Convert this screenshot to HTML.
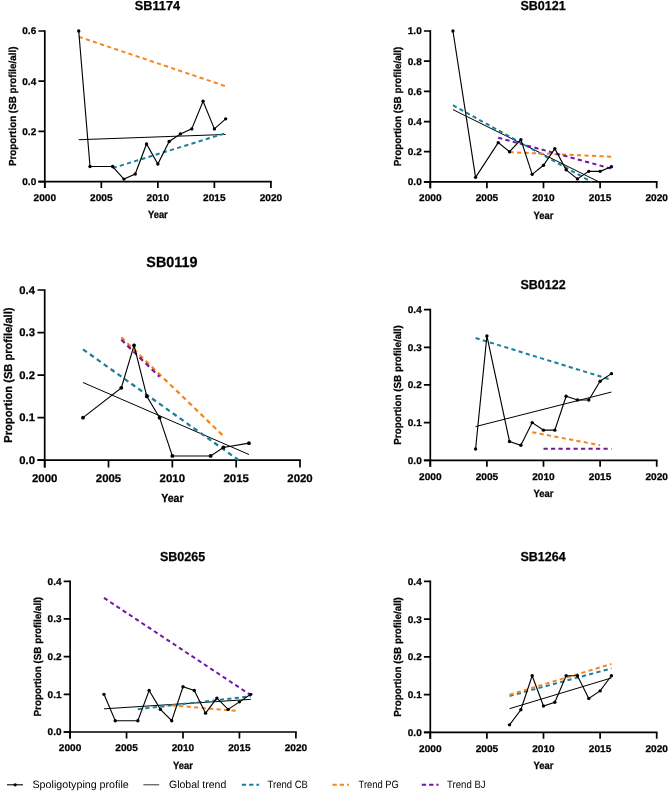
<!DOCTYPE html>
<html><head><meta charset="utf-8"><style>
html,body{margin:0;padding:0;background:#fff;}
svg{display:block;will-change:transform;}
text{font-family:"Liberation Sans",sans-serif;fill:#000;text-rendering:geometricPrecision;}
.b{font-weight:bold;stroke:#000;stroke-width:0.25px;}
</style></head><body>
<svg width="669" height="792" viewBox="0 0 669 792">
<rect width="669" height="792" fill="#fff"/>
<path d="M44.8 30.15V188M38.4 181.6H271.75" stroke="#000" stroke-width="1.7" fill="none"/>
<path d="M38.4 181.6H44.8M38.4 131.4H44.8M38.4 81.2H44.8M38.4 31H44.8M44.8 181.6V188M101.32 181.6V188M157.85 181.6V188M214.38 181.6V188M270.9 181.6V188" stroke="#000" stroke-width="1.7" fill="none"/>
<text x="36.2" y="185" font-size="9.8" class="b" text-anchor="end" textLength="13.9" lengthAdjust="spacingAndGlyphs">0.0</text>
<text x="36.2" y="134.8" font-size="9.8" class="b" text-anchor="end" textLength="13.9" lengthAdjust="spacingAndGlyphs">0.2</text>
<text x="36.2" y="84.6" font-size="9.8" class="b" text-anchor="end" textLength="13.9" lengthAdjust="spacingAndGlyphs">0.4</text>
<text x="36.2" y="34.4" font-size="9.8" class="b" text-anchor="end" textLength="13.9" lengthAdjust="spacingAndGlyphs">0.6</text>
<text x="44.8" y="200.9" font-size="9.8" class="b" text-anchor="middle" textLength="22.5" lengthAdjust="spacingAndGlyphs">2000</text>
<text x="101.32" y="200.9" font-size="9.8" class="b" text-anchor="middle" textLength="22.5" lengthAdjust="spacingAndGlyphs">2005</text>
<text x="157.85" y="200.9" font-size="9.8" class="b" text-anchor="middle" textLength="22.5" lengthAdjust="spacingAndGlyphs">2010</text>
<text x="214.38" y="200.9" font-size="9.8" class="b" text-anchor="middle" textLength="22.5" lengthAdjust="spacingAndGlyphs">2015</text>
<text x="270.9" y="200.9" font-size="9.8" class="b" text-anchor="middle" textLength="22.5" lengthAdjust="spacingAndGlyphs">2020</text>
<text x="157.45" y="10.3" font-size="13" class="b" text-anchor="middle" textLength="45.3" lengthAdjust="spacingAndGlyphs">SB1174</text>
<text x="157.85" y="218.4" font-size="10.4" class="b" text-anchor="middle" textLength="19.8" lengthAdjust="spacingAndGlyphs">Year</text>
<text transform="translate(15.5 106.3) rotate(-90)" x="0" y="0" font-size="10.2" class="b" text-anchor="middle" textLength="119.6" lengthAdjust="spacingAndGlyphs">Proportion (SB profile/all)</text>
<path d="M78.72 139.73L225.68 134.46" stroke="#000" stroke-width="1" fill="none"/>
<path d="M112.63 168.05L225.68 133.16" stroke="#17809f" stroke-width="2" fill="none" stroke-dasharray="4.2 3.3"/>
<path d="M78.72 36.77L225.68 86.22" stroke="#f5861f" stroke-width="2" fill="none" stroke-dasharray="4.2 3.3"/>
<path d="M78.72 31L90.02 166.54L112.63 166.54L123.93 179.09L135.24 174.07L146.54 143.95L157.85 164.03L169.15 141.44L180.46 133.91L191.76 128.89L203.07 101.28L214.38 128.89L225.68 118.85" stroke="#000" stroke-width="1.13" fill="none"/>
<circle cx="78.72" cy="31" r="1.7"/>
<circle cx="90.02" cy="166.54" r="1.7"/>
<circle cx="112.63" cy="166.54" r="1.7"/>
<circle cx="123.93" cy="179.09" r="1.7"/>
<circle cx="135.24" cy="174.07" r="1.7"/>
<circle cx="146.54" cy="143.95" r="1.7"/>
<circle cx="157.85" cy="164.03" r="1.7"/>
<circle cx="169.15" cy="141.44" r="1.7"/>
<circle cx="180.46" cy="133.91" r="1.7"/>
<circle cx="191.76" cy="128.89" r="1.7"/>
<circle cx="203.07" cy="101.28" r="1.7"/>
<circle cx="214.38" cy="128.89" r="1.7"/>
<circle cx="225.68" cy="118.85" r="1.7"/>
<path d="M430.3 30.15V188.3M423.9 181.9H657.55" stroke="#000" stroke-width="1.7" fill="none"/>
<path d="M423.9 181.9H430.3M423.9 151.72H430.3M423.9 121.54H430.3M423.9 91.36H430.3M423.9 61.18H430.3M423.9 31H430.3M430.3 181.9V188.3M486.9 181.9V188.3M543.5 181.9V188.3M600.1 181.9V188.3M656.7 181.9V188.3" stroke="#000" stroke-width="1.7" fill="none"/>
<text x="421.7" y="185.3" font-size="9.8" class="b" text-anchor="end" textLength="13.9" lengthAdjust="spacingAndGlyphs">0.0</text>
<text x="421.7" y="155.12" font-size="9.8" class="b" text-anchor="end" textLength="13.9" lengthAdjust="spacingAndGlyphs">0.2</text>
<text x="421.7" y="124.94" font-size="9.8" class="b" text-anchor="end" textLength="13.9" lengthAdjust="spacingAndGlyphs">0.4</text>
<text x="421.7" y="94.76" font-size="9.8" class="b" text-anchor="end" textLength="13.9" lengthAdjust="spacingAndGlyphs">0.6</text>
<text x="421.7" y="64.58" font-size="9.8" class="b" text-anchor="end" textLength="13.9" lengthAdjust="spacingAndGlyphs">0.8</text>
<text x="421.7" y="34.4" font-size="9.8" class="b" text-anchor="end" textLength="13.9" lengthAdjust="spacingAndGlyphs">1.0</text>
<text x="430.3" y="201.2" font-size="9.8" class="b" text-anchor="middle" textLength="22.5" lengthAdjust="spacingAndGlyphs">2000</text>
<text x="486.9" y="201.2" font-size="9.8" class="b" text-anchor="middle" textLength="22.5" lengthAdjust="spacingAndGlyphs">2005</text>
<text x="543.5" y="201.2" font-size="9.8" class="b" text-anchor="middle" textLength="22.5" lengthAdjust="spacingAndGlyphs">2010</text>
<text x="600.1" y="201.2" font-size="9.8" class="b" text-anchor="middle" textLength="22.5" lengthAdjust="spacingAndGlyphs">2015</text>
<text x="656.7" y="201.2" font-size="9.8" class="b" text-anchor="middle" textLength="22.5" lengthAdjust="spacingAndGlyphs">2020</text>
<text x="543.1" y="10.3" font-size="13" class="b" text-anchor="middle" textLength="45.3" lengthAdjust="spacingAndGlyphs">SB0121</text>
<text x="543.5" y="218.7" font-size="10.4" class="b" text-anchor="middle" textLength="19.8" lengthAdjust="spacingAndGlyphs">Year</text>
<text transform="translate(401 106.45) rotate(-90)" x="0" y="0" font-size="10.2" class="b" text-anchor="middle" textLength="119.6" lengthAdjust="spacingAndGlyphs">Proportion (SB profile/all)</text>
<path d="M452.94 109.62L598.97 181.9" stroke="#000" stroke-width="1" fill="none"/>
<path d="M452.94 105.24L591.61 181.9" stroke="#17809f" stroke-width="2" fill="none" stroke-dasharray="4.2 3.3"/>
<path d="M509.54 152.17L611.42 156.7" stroke="#f5861f" stroke-width="2" fill="none" stroke-dasharray="4.2 3.3"/>
<path d="M498.22 137.69L611.42 168.62" stroke="#7216a6" stroke-width="2" fill="none" stroke-dasharray="4.2 3.3"/>
<path d="M452.94 31L475.58 177.37L498.22 142.67L509.54 151.72L520.86 139.65L532.18 174.36L543.5 165.3L554.82 148.7L566.14 169.83L577.46 178.88L588.78 171.34L600.1 171.34L611.42 166.81" stroke="#000" stroke-width="1.13" fill="none"/>
<circle cx="452.94" cy="31" r="1.7"/>
<circle cx="475.58" cy="177.37" r="1.7"/>
<circle cx="498.22" cy="142.67" r="1.7"/>
<circle cx="509.54" cy="151.72" r="1.7"/>
<circle cx="520.86" cy="139.65" r="1.7"/>
<circle cx="532.18" cy="174.36" r="1.7"/>
<circle cx="543.5" cy="165.3" r="1.7"/>
<circle cx="554.82" cy="148.7" r="1.7"/>
<circle cx="566.14" cy="169.83" r="1.7"/>
<circle cx="577.46" cy="178.88" r="1.7"/>
<circle cx="588.78" cy="171.34" r="1.7"/>
<circle cx="600.1" cy="171.34" r="1.7"/>
<circle cx="611.42" cy="166.81" r="1.7"/>
<path d="M44.7 289.15V467.43M37.47 460.2H300.85" stroke="#000" stroke-width="1.7" fill="none"/>
<path d="M37.47 460.2H44.7M37.47 417.65H44.7M37.47 375.1H44.7M37.47 332.55H44.7M37.47 290H44.7M44.7 460.2V467.43M108.53 460.2V467.43M172.35 460.2V467.43M236.18 460.2V467.43M300 460.2V467.43" stroke="#000" stroke-width="1.7" fill="none"/>
<text x="34.98" y="464.04" font-size="11.07" class="b" text-anchor="end" textLength="15.71" lengthAdjust="spacingAndGlyphs">0.0</text>
<text x="34.98" y="421.49" font-size="11.07" class="b" text-anchor="end" textLength="15.71" lengthAdjust="spacingAndGlyphs">0.1</text>
<text x="34.98" y="378.94" font-size="11.07" class="b" text-anchor="end" textLength="15.71" lengthAdjust="spacingAndGlyphs">0.2</text>
<text x="34.98" y="336.39" font-size="11.07" class="b" text-anchor="end" textLength="15.71" lengthAdjust="spacingAndGlyphs">0.3</text>
<text x="34.98" y="293.84" font-size="11.07" class="b" text-anchor="end" textLength="15.71" lengthAdjust="spacingAndGlyphs">0.4</text>
<text x="44.7" y="482.01" font-size="11.07" class="b" text-anchor="middle" textLength="25.42" lengthAdjust="spacingAndGlyphs">2000</text>
<text x="108.53" y="482.01" font-size="11.07" class="b" text-anchor="middle" textLength="25.42" lengthAdjust="spacingAndGlyphs">2005</text>
<text x="172.35" y="482.01" font-size="11.07" class="b" text-anchor="middle" textLength="25.42" lengthAdjust="spacingAndGlyphs">2010</text>
<text x="236.18" y="482.01" font-size="11.07" class="b" text-anchor="middle" textLength="25.42" lengthAdjust="spacingAndGlyphs">2015</text>
<text x="300" y="482.01" font-size="11.07" class="b" text-anchor="middle" textLength="25.42" lengthAdjust="spacingAndGlyphs">2020</text>
<text x="171.95" y="266.61" font-size="14.69" class="b" text-anchor="middle" textLength="51.19" lengthAdjust="spacingAndGlyphs">SB0119</text>
<text x="172.35" y="501.78" font-size="11.75" class="b" text-anchor="middle" textLength="22.37" lengthAdjust="spacingAndGlyphs">Year</text>
<text transform="translate(11.59 375.1) rotate(-90)" x="0" y="0" font-size="11.53" class="b" text-anchor="middle" textLength="135.15" lengthAdjust="spacingAndGlyphs">Proportion (SB profile/all)</text>
<path d="M83 382.5L248.94 454.5" stroke="#000" stroke-width="1" fill="none"/>
<path d="M83 349.31L238.73 460.2" stroke="#17809f" stroke-width="2.26" fill="none" stroke-dasharray="4.75 3.73"/>
<path d="M121.29 337.32L223.41 435.99" stroke="#f5861f" stroke-width="2.26" fill="none" stroke-dasharray="4.75 3.73"/>
<path d="M121.29 339.7L159.59 376.8" stroke="#7216a6" stroke-width="2.26" fill="none" stroke-dasharray="4.75 3.73"/>
<path d="M83 417.65L121.29 387.87L134.06 345.31L146.82 396.38L159.59 417.65L172.35 455.94L210.64 455.94L223.41 447.44L248.94 443.18" stroke="#000" stroke-width="1.13" fill="none"/>
<circle cx="83" cy="417.65" r="1.92"/>
<circle cx="121.29" cy="387.87" r="1.92"/>
<circle cx="134.06" cy="345.31" r="1.92"/>
<circle cx="146.82" cy="396.38" r="1.92"/>
<circle cx="159.59" cy="417.65" r="1.92"/>
<circle cx="172.35" cy="455.94" r="1.92"/>
<circle cx="210.64" cy="455.94" r="1.92"/>
<circle cx="223.41" cy="447.44" r="1.92"/>
<circle cx="248.94" cy="443.18" r="1.92"/>
<path d="M430.3 308.75V466.7M423.9 460.3H657.55" stroke="#000" stroke-width="1.7" fill="none"/>
<path d="M423.9 460.3H430.3M423.9 422.62H430.3M423.9 384.95H430.3M423.9 347.28H430.3M423.9 309.6H430.3M430.3 460.3V466.7M486.9 460.3V466.7M543.5 460.3V466.7M600.1 460.3V466.7M656.7 460.3V466.7" stroke="#000" stroke-width="1.7" fill="none"/>
<text x="421.7" y="463.7" font-size="9.8" class="b" text-anchor="end" textLength="13.9" lengthAdjust="spacingAndGlyphs">0.0</text>
<text x="421.7" y="426.02" font-size="9.8" class="b" text-anchor="end" textLength="13.9" lengthAdjust="spacingAndGlyphs">0.1</text>
<text x="421.7" y="388.35" font-size="9.8" class="b" text-anchor="end" textLength="13.9" lengthAdjust="spacingAndGlyphs">0.2</text>
<text x="421.7" y="350.68" font-size="9.8" class="b" text-anchor="end" textLength="13.9" lengthAdjust="spacingAndGlyphs">0.3</text>
<text x="421.7" y="313" font-size="9.8" class="b" text-anchor="end" textLength="13.9" lengthAdjust="spacingAndGlyphs">0.4</text>
<text x="430.3" y="479.6" font-size="9.8" class="b" text-anchor="middle" textLength="22.5" lengthAdjust="spacingAndGlyphs">2000</text>
<text x="486.9" y="479.6" font-size="9.8" class="b" text-anchor="middle" textLength="22.5" lengthAdjust="spacingAndGlyphs">2005</text>
<text x="543.5" y="479.6" font-size="9.8" class="b" text-anchor="middle" textLength="22.5" lengthAdjust="spacingAndGlyphs">2010</text>
<text x="600.1" y="479.6" font-size="9.8" class="b" text-anchor="middle" textLength="22.5" lengthAdjust="spacingAndGlyphs">2015</text>
<text x="656.7" y="479.6" font-size="9.8" class="b" text-anchor="middle" textLength="22.5" lengthAdjust="spacingAndGlyphs">2020</text>
<text x="543.1" y="288.9" font-size="13" class="b" text-anchor="middle" textLength="45.3" lengthAdjust="spacingAndGlyphs">SB0122</text>
<text x="543.5" y="497.1" font-size="10.4" class="b" text-anchor="middle" textLength="19.8" lengthAdjust="spacingAndGlyphs">Year</text>
<text transform="translate(401 384.95) rotate(-90)" x="0" y="0" font-size="10.2" class="b" text-anchor="middle" textLength="119.6" lengthAdjust="spacingAndGlyphs">Proportion (SB profile/all)</text>
<path d="M475.58 426.58L611.42 392.07" stroke="#000" stroke-width="1" fill="none"/>
<path d="M475.58 338.01L611.42 379.86" stroke="#17809f" stroke-width="2" fill="none" stroke-dasharray="4.2 3.3"/>
<path d="M532.18 432.27L600.1 445.19" stroke="#f5861f" stroke-width="2" fill="none" stroke-dasharray="4.2 3.3"/>
<path d="M543.5 448.81L611.42 448.81" stroke="#7216a6" stroke-width="2" fill="none" stroke-dasharray="4.2 3.3"/>
<path d="M475.58 449L486.9 335.97L509.54 441.46L520.86 445.23L532.18 422.62L543.5 430.16L554.82 430.16L566.14 396.25L577.46 400.02L588.78 400.02L600.1 381.18L611.42 373.65" stroke="#000" stroke-width="1.13" fill="none"/>
<circle cx="475.58" cy="449" r="1.7"/>
<circle cx="486.9" cy="335.97" r="1.7"/>
<circle cx="509.54" cy="441.46" r="1.7"/>
<circle cx="520.86" cy="445.23" r="1.7"/>
<circle cx="532.18" cy="422.62" r="1.7"/>
<circle cx="543.5" cy="430.16" r="1.7"/>
<circle cx="554.82" cy="430.16" r="1.7"/>
<circle cx="566.14" cy="396.25" r="1.7"/>
<circle cx="577.46" cy="400.02" r="1.7"/>
<circle cx="588.78" cy="400.02" r="1.7"/>
<circle cx="600.1" cy="381.18" r="1.7"/>
<circle cx="611.42" cy="373.65" r="1.7"/>
<path d="M70.1 580.45V738.4M63.7 732H296.75" stroke="#000" stroke-width="1.7" fill="none"/>
<path d="M63.7 732H70.1M63.7 694.33H70.1M63.7 656.65H70.1M63.7 618.97H70.1M63.7 581.3H70.1M70.1 732V738.4M126.55 732V738.4M183 732V738.4M239.45 732V738.4M295.9 732V738.4" stroke="#000" stroke-width="1.7" fill="none"/>
<text x="61.5" y="735.4" font-size="9.8" class="b" text-anchor="end" textLength="13.9" lengthAdjust="spacingAndGlyphs">0.0</text>
<text x="61.5" y="697.73" font-size="9.8" class="b" text-anchor="end" textLength="13.9" lengthAdjust="spacingAndGlyphs">0.1</text>
<text x="61.5" y="660.05" font-size="9.8" class="b" text-anchor="end" textLength="13.9" lengthAdjust="spacingAndGlyphs">0.2</text>
<text x="61.5" y="622.37" font-size="9.8" class="b" text-anchor="end" textLength="13.9" lengthAdjust="spacingAndGlyphs">0.3</text>
<text x="61.5" y="584.7" font-size="9.8" class="b" text-anchor="end" textLength="13.9" lengthAdjust="spacingAndGlyphs">0.4</text>
<text x="70.1" y="751.3" font-size="9.8" class="b" text-anchor="middle" textLength="22.5" lengthAdjust="spacingAndGlyphs">2000</text>
<text x="126.55" y="751.3" font-size="9.8" class="b" text-anchor="middle" textLength="22.5" lengthAdjust="spacingAndGlyphs">2005</text>
<text x="183" y="751.3" font-size="9.8" class="b" text-anchor="middle" textLength="22.5" lengthAdjust="spacingAndGlyphs">2010</text>
<text x="239.45" y="751.3" font-size="9.8" class="b" text-anchor="middle" textLength="22.5" lengthAdjust="spacingAndGlyphs">2015</text>
<text x="295.9" y="751.3" font-size="9.8" class="b" text-anchor="middle" textLength="22.5" lengthAdjust="spacingAndGlyphs">2020</text>
<text x="182.6" y="560.6" font-size="13" class="b" text-anchor="middle" textLength="45.3" lengthAdjust="spacingAndGlyphs">SB0265</text>
<text x="183" y="768.8" font-size="10.4" class="b" text-anchor="middle" textLength="19.8" lengthAdjust="spacingAndGlyphs">Year</text>
<text transform="translate(40.8 656.65) rotate(-90)" x="0" y="0" font-size="10.2" class="b" text-anchor="middle" textLength="119.6" lengthAdjust="spacingAndGlyphs">Proportion (SB profile/all)</text>
<path d="M103.97 708.83L250.74 699.37" stroke="#000" stroke-width="1" fill="none"/>
<path d="M137.84 709.21L250.74 696.28" stroke="#17809f" stroke-width="2" fill="none" stroke-dasharray="4.2 3.3"/>
<path d="M171.71 705.33L237.76 711.02" stroke="#f5861f" stroke-width="2" fill="none" stroke-dasharray="4.2 3.3"/>
<path d="M103.97 597.88L250.74 695.12" stroke="#7216a6" stroke-width="2" fill="none" stroke-dasharray="4.2 3.3"/>
<path d="M103.97 694.33L115.26 720.7L137.84 720.7L149.13 690.56L160.42 709.39L171.71 720.7L183 686.79L194.29 690.56L205.58 713.16L216.87 698.09L228.16 709.39L239.45 701.86L250.74 694.33" stroke="#000" stroke-width="1.13" fill="none"/>
<circle cx="103.97" cy="694.33" r="1.7"/>
<circle cx="115.26" cy="720.7" r="1.7"/>
<circle cx="137.84" cy="720.7" r="1.7"/>
<circle cx="149.13" cy="690.56" r="1.7"/>
<circle cx="160.42" cy="709.39" r="1.7"/>
<circle cx="171.71" cy="720.7" r="1.7"/>
<circle cx="183" cy="686.79" r="1.7"/>
<circle cx="194.29" cy="690.56" r="1.7"/>
<circle cx="205.58" cy="713.16" r="1.7"/>
<circle cx="216.87" cy="698.09" r="1.7"/>
<circle cx="228.16" cy="709.39" r="1.7"/>
<circle cx="239.45" cy="701.86" r="1.7"/>
<circle cx="250.74" cy="694.33" r="1.7"/>
<path d="M430.3 580.55V738.8M423.9 732.4H657.55" stroke="#000" stroke-width="1.7" fill="none"/>
<path d="M423.9 732.4H430.3M423.9 694.65H430.3M423.9 656.9H430.3M423.9 619.15H430.3M423.9 581.4H430.3M430.3 732.4V738.8M486.9 732.4V738.8M543.5 732.4V738.8M600.1 732.4V738.8M656.7 732.4V738.8" stroke="#000" stroke-width="1.7" fill="none"/>
<text x="421.7" y="735.8" font-size="9.8" class="b" text-anchor="end" textLength="13.9" lengthAdjust="spacingAndGlyphs">0.0</text>
<text x="421.7" y="698.05" font-size="9.8" class="b" text-anchor="end" textLength="13.9" lengthAdjust="spacingAndGlyphs">0.1</text>
<text x="421.7" y="660.3" font-size="9.8" class="b" text-anchor="end" textLength="13.9" lengthAdjust="spacingAndGlyphs">0.2</text>
<text x="421.7" y="622.55" font-size="9.8" class="b" text-anchor="end" textLength="13.9" lengthAdjust="spacingAndGlyphs">0.3</text>
<text x="421.7" y="584.8" font-size="9.8" class="b" text-anchor="end" textLength="13.9" lengthAdjust="spacingAndGlyphs">0.4</text>
<text x="430.3" y="751.7" font-size="9.8" class="b" text-anchor="middle" textLength="22.5" lengthAdjust="spacingAndGlyphs">2000</text>
<text x="486.9" y="751.7" font-size="9.8" class="b" text-anchor="middle" textLength="22.5" lengthAdjust="spacingAndGlyphs">2005</text>
<text x="543.5" y="751.7" font-size="9.8" class="b" text-anchor="middle" textLength="22.5" lengthAdjust="spacingAndGlyphs">2010</text>
<text x="600.1" y="751.7" font-size="9.8" class="b" text-anchor="middle" textLength="22.5" lengthAdjust="spacingAndGlyphs">2015</text>
<text x="656.7" y="751.7" font-size="9.8" class="b" text-anchor="middle" textLength="22.5" lengthAdjust="spacingAndGlyphs">2020</text>
<text x="543.1" y="560.7" font-size="13" class="b" text-anchor="middle" textLength="45.3" lengthAdjust="spacingAndGlyphs">SB1264</text>
<text x="543.5" y="769.2" font-size="10.4" class="b" text-anchor="middle" textLength="19.8" lengthAdjust="spacingAndGlyphs">Year</text>
<text transform="translate(401 656.9) rotate(-90)" x="0" y="0" font-size="10.2" class="b" text-anchor="middle" textLength="119.6" lengthAdjust="spacingAndGlyphs">Proportion (SB profile/all)</text>
<path d="M509.54 708.69L611.42 677.96" stroke="#000" stroke-width="1" fill="none"/>
<path d="M509.54 695.97L611.42 668.45" stroke="#17809f" stroke-width="2" fill="none" stroke-dasharray="4.2 3.3"/>
<path d="M509.54 694.73L611.42 664" stroke="#f5861f" stroke-width="2" fill="none" stroke-dasharray="4.2 3.3"/>
<path d="M509.54 724.85L520.86 709.75L532.18 675.77L543.5 705.98L554.82 702.2L566.14 675.77L577.46 675.77L588.78 698.42L600.1 690.88L611.42 675.77" stroke="#000" stroke-width="1.13" fill="none"/>
<circle cx="509.54" cy="724.85" r="1.7"/>
<circle cx="520.86" cy="709.75" r="1.7"/>
<circle cx="532.18" cy="675.77" r="1.7"/>
<circle cx="543.5" cy="705.98" r="1.7"/>
<circle cx="554.82" cy="702.2" r="1.7"/>
<circle cx="566.14" cy="675.77" r="1.7"/>
<circle cx="577.46" cy="675.77" r="1.7"/>
<circle cx="588.78" cy="698.42" r="1.7"/>
<circle cx="600.1" cy="690.88" r="1.7"/>
<circle cx="611.42" cy="675.77" r="1.7"/>
<path d="M7 784.8H23" stroke="#000" stroke-width="1.1"/>
<circle cx="15.2" cy="784.8" r="1.6"/>
<path d="M143.4 784.8H159.2" stroke="#333" stroke-width="1"/>
<path d="M241.8 784.8H259.1" stroke="#17809f" stroke-width="2" stroke-dasharray="4.3 3"/>
<path d="M332.5 784.8H349" stroke="#f5861f" stroke-width="2" stroke-dasharray="4.3 3"/>
<path d="M421.8 784.8H438.5" stroke="#7216a6" stroke-width="2" stroke-dasharray="4.3 3"/>
<text x="32.5" y="788.4" font-size="10.6" textLength="96.2" lengthAdjust="spacingAndGlyphs">Spoligotyping profile</text>
<text x="169.0" y="788.4" font-size="10.6" textLength="57.3" lengthAdjust="spacingAndGlyphs">Global trend</text>
<text x="267.5" y="788.4" font-size="10.6" textLength="40.4" lengthAdjust="spacingAndGlyphs">Trend CB</text>
<text x="358.6" y="788.4" font-size="10.6" textLength="40.3" lengthAdjust="spacingAndGlyphs">Trend PG</text>
<text x="447.0" y="788.4" font-size="10.6" textLength="38.6" lengthAdjust="spacingAndGlyphs">Trend BJ</text>
</svg>
</body></html>
